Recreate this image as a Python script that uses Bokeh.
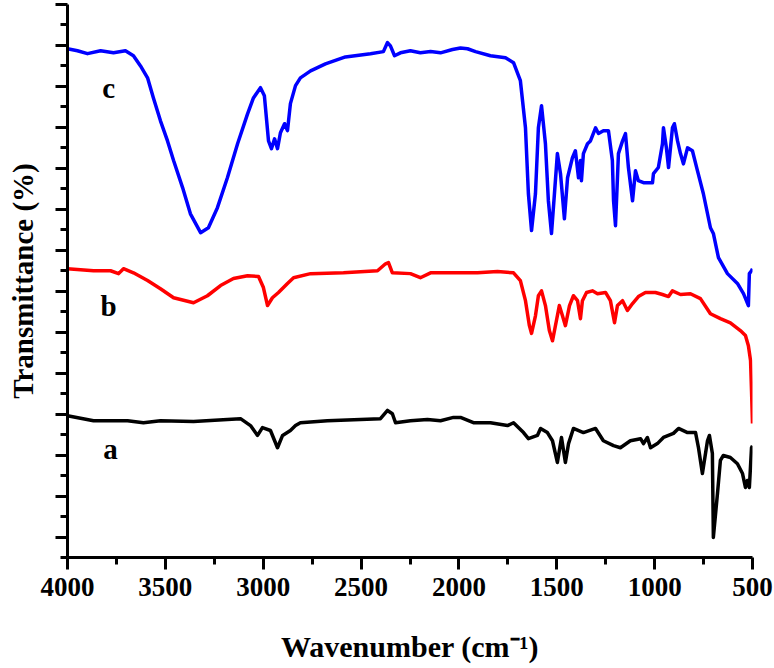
from bokeh.plotting import figure
from bokeh.models import Range1d, FixedTicker, CustomJSTickFormatter, ColumnDataSource
from bokeh.core.properties import value
from bokeh.embed import file_html
from bokeh.resources import INLINE

# ---- data ----
wn_c = [4000,3949,3898,3831,3765,3704,3663,3627,3591,3561,
        3525,3489,3458,3412,3372,3320,3280,3234,3183,3131,
        3080,3050,3014,2994,2973,2958,2942,2927,2912,2891,
        2876,2861,2835,2810,2758,2682,2580,2452,2386,2365,
        2350,2329,2299,2248,2197,2145,2094,2033,1992,1956,
        1915,1839,1762,1721,1686,1660,1645,1629,1609,1594,
        1578,1558,1543,1527,1512,1497,1481,1461,1445,1420,
        1405,1389,1379,1374,1364,1343,1328,1302,1287,1262,
        1236,1216,1210,1200,1190,1185,1164,1149,1134,1113,
        1098,1083,1057,1011,1006,981,960,955,940,929,
        909,899,883,868,853,832,807,781,751,715,
        700,674,628,577,546,521,516,505,500]
T_c = [124.2,123.7,123.0,123.7,123.2,123.7,122.5,120.0,117.1,112.2,
       106.6,101.7,96.9,90.3,83.9,79.3,80.5,85.4,92.7,101.0,
       108.3,112.2,114.7,112.7,101.7,99.8,102.2,99.8,103.7,105.9,
       104.2,110.8,115.2,117.1,118.8,120.5,122.2,123.0,123.5,125.7,
       124.9,122.5,123.2,123.7,123.2,123.5,123.2,124.0,124.4,124.2,
       123.5,122.5,122.0,120.8,116.4,104.9,88.8,79.8,88.8,104.9,
       110.3,101.0,87.1,79.1,88.8,98.6,93.7,82.7,92.7,97.6,
       99.3,92.7,96.9,92.0,98.6,101.0,101.7,104.9,103.5,104.2,
       104.2,96.9,87.1,81.0,92.7,98.6,101.7,103.5,95.2,87.1,
       94.4,92.0,91.5,91.5,93.7,95.2,101.0,104.9,100.0,95.2,
       104.9,105.9,101.7,98.6,96.1,100.0,99.3,94.4,88.8,80.5,
       79.1,73.2,69.3,66.9,64.4,61.5,69.3,70.0,70.5]

wn_b = [4000,3867,3780,3739,3714,3663,3591,3525,3458,3356,
        3285,3218,3152,3080,3024,2999,2978,2953,2922,2876,
        2845,2758,2590,2416,2375,2360,2340,2248,2197,2145,
        2079,1905,1803,1721,1686,1660,1640,1629,1609,1594,
        1578,1558,1538,1522,1502,1487,1471,1456,1435,1415,
        1394,1379,1369,1348,1318,1292,1251,1226,1205,1190,
        1164,1139,1113,1083,1047,996,960,929,909,868,
        817,766,715,664,613,562,536,521,510,505,500]
T_b = [70.5,70.0,70.0,69.3,70.5,69.5,67.6,65.6,63.4,62.2,
       63.9,66.4,68.1,68.8,68.6,65.9,61.5,63.4,64.7,66.9,
       68.3,69.3,69.5,70.0,71.7,72.0,69.5,69.3,68.3,69.5,
       69.5,69.5,69.8,69.5,67.6,62.7,56.6,54.7,59.0,63.9,
       65.1,61.5,55.4,52.9,57.8,61.5,59.0,56.6,61.5,63.9,
       62.7,58.3,62.7,64.7,65.1,64.4,64.7,62.7,57.3,61.5,
       62.7,60.3,62.0,63.7,64.7,64.7,64.2,63.7,65.1,64.2,
       64.4,63.2,59.5,58.3,57.3,55.4,54.2,51.7,48.1,40.7,32.7]

wn_a = [4000,3867,3693,3612,3525,3356,3183,3116,3065,3029,
        3004,2963,2927,2901,2861,2835,2810,2672,2503,2401,
        2365,2340,2324,2248,2161,2094,2028,1992,1926,1839,
        1752,1721,1670,1645,1599,1583,1548,1522,1497,1476,
        1456,1440,1415,1364,1302,1262,1210,1175,1124,1072,
        1057,1037,1021,986,955,904,878,832,791,776,
        756,730,720,705,700,679,664,649,613,577,
        551,536,526,516,505,500]
T_a = [34.6,33.4,33.4,32.9,33.4,33.2,33.7,33.9,32.2,29.8,
       31.7,31.0,26.8,29.8,31.0,32.2,32.9,33.4,33.7,33.9,
       35.9,35.1,32.9,33.4,33.7,33.4,34.2,34.2,32.9,32.9,
       32.2,32.9,30.5,29.0,29.8,31.5,30.5,28.5,23.2,29.3,
       23.2,27.8,31.5,30.5,31.5,28.5,27.3,26.8,28.5,29.0,
       27.8,29.3,26.8,27.8,29.3,30.3,31.5,30.5,30.5,26.8,
       20.5,28.5,29.8,25.4,4.9,15.6,23.7,24.9,24.4,22.9,
       20.5,17.1,18.8,17.1,26.8,27.3]

series_names = ["a", "b", "c"]
label_x = [3780, 3790, 3790]
label_y = [26.4, 61.5, 114.5]

x_ticks = [4000, 3500, 3000, 2500, 2000, 1500, 1000, 500]
x_minor = [3750, 3250, 2750, 2250, 1750, 1250, 750]
y_ticks = [5, 15, 25, 35, 45, 55, 65, 75, 85, 95, 105, 115, 125, 135]
y_minor = [0, 10, 20, 30, 40, 50, 60, 70, 80, 90, 100, 110, 120, 130]

x_title = "Wavenumber (cm\u207b\u00b9)"
y_title = "Transmittance (%)"

FONT = "Liberation Serif"

p = figure(width=774, height=668, output_backend="svg", toolbar_location=None,
           x_range=Range1d(4000, 500), y_range=Range1d(0, 135),
           min_border_left=67, min_border_right=22, min_border_top=4,
           min_border_bottom=111, background_fill_color="white",
           border_fill_color="white")
p.outline_line_color = None
p.xgrid.visible = False
p.ygrid.visible = False

p.line(wn_a, T_a, line_color="black", line_width=3.5, line_join="round")
p.line(wn_b, T_b, line_color="#ff0000", line_width=3.5, line_join="round")
p.line(wn_c, T_c, line_color="#0000ff", line_width=3.5, line_join="round")

src = ColumnDataSource(dict(x=label_x, y=label_y, t=series_names))
p.text(x="x", y="y", text="t", source=src, text_font=value(FONT),
       text_font_style="bold", text_font_size="29px", text_color="black",
       text_align="center", text_baseline="middle")

for ax in (p.xaxis[0], p.yaxis[0]):
    ax.axis_line_width = 3
    ax.axis_line_color = "black"
    ax.major_tick_line_width = 3
    ax.minor_tick_line_width = 3
    ax.major_tick_in = 0
    ax.minor_tick_in = 0
    ax.major_tick_out = 12
    ax.minor_tick_out = 7
    ax.major_label_text_font = FONT
    ax.major_label_text_font_style = "bold"
    ax.major_label_text_color = "black"
    ax.axis_label_text_font = FONT
    ax.axis_label_text_font_style = "bold"
    ax.axis_label_text_color = "black"

xa = p.xaxis[0]
xa.ticker = FixedTicker(ticks=x_ticks, minor_ticks=x_minor)
xa.major_label_text_font_size = "27px"
xa.major_label_standoff = 8
xa.axis_label = x_title
xa.axis_label_text_font_size = "30px"
xa.axis_label_standoff = 31

ya = p.yaxis[0]
ya.ticker = FixedTicker(ticks=y_ticks, minor_ticks=y_minor)
ya.formatter = CustomJSTickFormatter(code="return ''")
ya.major_label_text_font_size = "1px"
ya.major_label_standoff = 0
ya.axis_label = y_title
ya.axis_label_text_font_size = "29px"
ya.axis_label_standoff = 17

open("out.html", "w").write(file_html(p, INLINE))
